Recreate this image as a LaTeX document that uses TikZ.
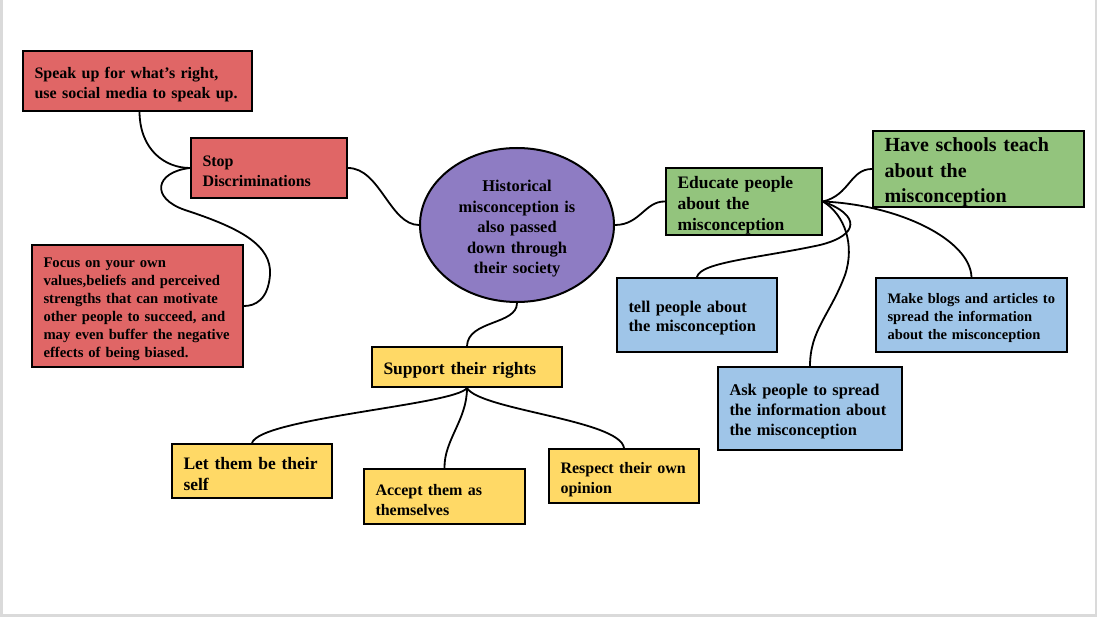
\documentclass[tikz,border=0pt]{standalone}
\usepackage{fontspec}
\setmainfont{Liberation Serif}
\usetikzlibrary{shapes.geometric}
\definecolor{cred}{HTML}{E06666}
\definecolor{cgreen}{HTML}{93C47D}
\definecolor{cblue}{HTML}{9FC5E8}
\definecolor{cyellow}{HTML}{FFD966}
\definecolor{cpurple}{HTML}{8E7CC3}
\definecolor{frame}{HTML}{DADADA}
\tikzset{
  box/.style={draw=black, line width=2pt, rectangle, inner xsep=11.5pt, inner ysep=0pt, align=left},
  conn/.style={line width=1.8pt, line cap=round},
}
\newcommand{\fsz}[2]{\fontsize{#1}{#2}\selectfont\bfseries}
\begin{document}
\begin{tikzpicture}[x=1pt,y=-1pt]
\useasboundingbox (0,0) rectangle (1097,617);
\fill[frame] (0,0) rectangle (1097,617);
\fill[white] (3,0) rectangle (1095,614);

% red branch
\node[box, fill=cred, text width=206pt, minimum height=60pt, font=\fsz{16}{20}, text height=18pt] (speak) at (137.5,81) {Speak up for what's right,\\use social media to speak up.};
\node[box, fill=cred, text width=133pt, minimum height=60pt, font=\fsz{16}{20}, text height=18pt] (stop) at (269,168) {Stop\\Discriminations};
\node[box, fill=cred, text width=188pt, minimum height=122pt, font=\fsz{14.7}{18}, text height=17pt] (focus) at (137.5,306) {Focus on your own\\values,beliefs and perceived\\strengths that can motivate\\other people to succeed, and\\may even buffer the negative\\effects of being biased.};

% center
\node[ellipse, draw=black, line width=2pt, fill=cpurple, minimum width=194pt, minimum height=154pt, inner sep=0pt, text width=118pt, align=center, font=\fsz{16.4}{20.5}, text height=19pt] (center) at (517,225) {Historical\\misconception is\\also passed\\down through\\their society};

% green/blue branch
\node[box, fill=cgreen, text width=133pt, minimum height=67pt, font=\fsz{17.5}{21}, text height=19pt] (educate) at (744,201.5) {Educate people\\about the\\misconception};
\node[box, fill=cgreen, text width=188pt, minimum height=74pt, font=\fsz{20}{25.5}, text height=21pt] (have) at (978.5,169) {Have schools teach\\about the\\misconception};
\node[box, fill=cblue, text width=137pt, minimum height=74pt, font=\fsz{16.4}{19}, text height=17pt] (tell) at (697,315) {tell people about\\the misconception};
\node[box, fill=cblue, text width=168pt, minimum height=74pt, font=\fsz{14.5}{18}, text height=17pt] (make) at (971.5,315) {Make blogs and articles to\\spread the information\\about the misconception};
\node[box, fill=cblue, text width=161pt, minimum height=83pt, font=\fsz{16.4}{20}, text height=18pt] (ask) at (810,408.5) {Ask people to spread\\the information about\\the misconception};

% yellow branch
\node[box, fill=cyellow, text width=167pt, minimum height=40pt, font=\fsz{17.5}{21}, text height=18.5pt] (support) at (467,367) {Support their rights};
\node[box, fill=cyellow, text width=137pt, minimum height=54pt, font=\fsz{17.5}{21}, text height=19pt] (let) at (252,471) {Let them be their\\self};
\node[box, fill=cyellow, text width=138pt, minimum height=55pt, font=\fsz{16}{20}, text height=18pt] (accept) at (444.5,496.5) {Accept them as\\themselves};
\node[box, fill=cyellow, text width=127pt, minimum height=54pt, font=\fsz{16}{20}, text height=18pt] (respect) at (624,476) {Respect their own\\opinion};

% connectors
\draw[conn] ([xshift=2pt]speak.south) .. controls (140,150) and (165,168) .. (stop.west);
\draw[conn] (stop.west) .. controls (155,172) and (150,198) .. (185,210)
   .. controls (240,228) and (272,245) .. (270,275)
   .. controls (268,300) and (255,306) .. (focus.east);
\draw[conn] (stop.east) .. controls (380,168) and (390,225) .. (center.west);
\draw[conn] (center.east) .. controls (640,225) and (645,201) .. (educate.west);
\draw[conn] (center.south) .. controls (517,325) and (468,320) .. (support.north);
\draw[conn] (support.south) .. controls (455,405) and (260,418) .. (let.north);
\draw[conn] (support.south) .. controls (467,420) and (444,440) .. (accept.north);
\draw[conn] (support.south) .. controls (480,410) and (620,420) .. (respect.north);
\draw[conn] (educate.east) .. controls (850,195) and (850,169) .. (have.west);
\draw[conn] (educate.east) .. controls (860,215) and (860,235) .. (820,245)
   .. controls (760,258) and (700,262) .. (tell.north);
\draw[conn] (educate.east) .. controls (845,215) and (855,245) .. (845,275)
   .. controls (830,315) and (810,330) .. (ask.north);
\draw[conn] (educate.east) .. controls (900,205) and (970,240) .. (make.north);
\end{tikzpicture}
\end{document}
